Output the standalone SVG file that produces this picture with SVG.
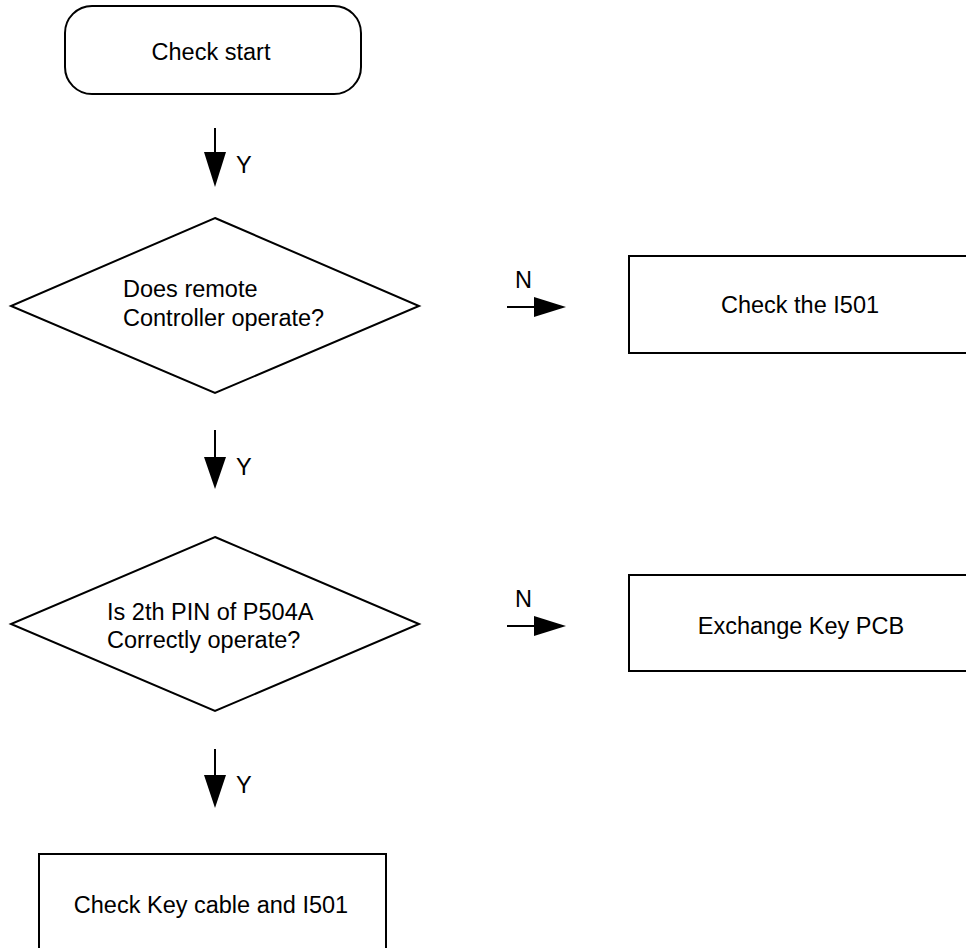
<svg xmlns="http://www.w3.org/2000/svg" width="966" height="948" viewBox="0 0 966 948">
  <style>
    .shape { fill: #ffffff; stroke: #000000; stroke-width: 2; }
    .label { font-family: "Liberation Sans", Arial, sans-serif; font-size: 23.5px; fill: #000000; }
    .mid { text-anchor: middle; }
    .conn { stroke: #000000; stroke-width: 2; fill: none; }
    .head { fill: #000000; stroke: none; }
  </style>
  <rect width="966" height="948" fill="#ffffff"/>

  <g id="start">
    <rect class="shape" x="65" y="6" width="296" height="88" rx="27" ry="27"/>
    <text class="label mid" x="211" y="60">Check start</text>
  </g>

  <g id="remote-check">
    <polygon class="shape" points="215,218 419,306 215,393 11,306"/>
    <text class="label" x="123" y="297">Does remote</text>
    <text class="label" x="123" y="326">Controller operate?</text>
  </g>

  <g id="check-i501">
    <polyline class="shape" points="972,256 629,256 629,353 972,353"/>
    <text class="label mid" x="800" y="313">Check the I501</text>
  </g>

  <g id="pin-check">
    <polygon class="shape" points="215,537 419,624 215,711 11,624"/>
    <text class="label" x="107" y="620">Is 2th PIN of P504A</text>
    <text class="label" x="107" y="648">Correctly operate?</text>
  </g>

  <g id="exchange-key-pcb">
    <polyline class="shape" points="972,575 629,575 629,671 972,671"/>
    <text class="label mid" x="801" y="634">Exchange Key PCB</text>
  </g>

  <g id="check-key-cable">
    <polyline class="shape" points="39,960 39,854 386,854 386,960"/>
    <text class="label mid" x="211" y="913">Check Key cable and I501</text>
  </g>

  <g id="connectors">
    <!-- start to first decision -->
    <line class="conn" x1="215" y1="128" x2="215" y2="155"/>
    <polygon class="head" points="204,152 226,152 215,187"/>
    <text class="label" x="236" y="173">Y</text>

    <!-- first decision: no -->
    <line class="conn" x1="507" y1="307" x2="536" y2="307"/>
    <polygon class="head" points="534,297 534,317 566,307"/>
    <text class="label" x="515" y="288">N</text>

    <!-- first decision: yes -->
    <line class="conn" x1="215" y1="430" x2="215" y2="460"/>
    <polygon class="head" points="204,457 226,457 215,489"/>
    <text class="label" x="236" y="475">Y</text>

    <!-- second decision: no -->
    <line class="conn" x1="507" y1="626" x2="536" y2="626"/>
    <polygon class="head" points="534,616 534,636 566,626"/>
    <text class="label" x="515" y="607">N</text>

    <!-- second decision: yes -->
    <line class="conn" x1="215" y1="749" x2="215" y2="778"/>
    <polygon class="head" points="204,775 226,775 215,808"/>
    <text class="label" x="236" y="793">Y</text>
  </g>
</svg>
